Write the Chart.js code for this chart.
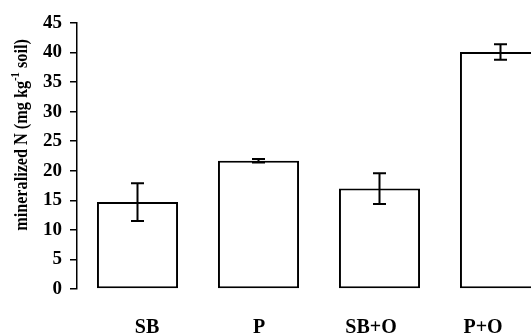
<!DOCTYPE html>
<html>
<head>
<meta charset="utf-8">
<script src="https://cdn.jsdelivr.net/npm/chart.js@4/dist/chart.umd.min.js"></script>
<style>
  html, body { margin: 0; padding: 0; background: #fff; overflow: hidden; }
  body { width: 531px; height: 333px; }
  #wrap { width: 565px; height: 359px; }
</style>
</head>
<body>
<div id="wrap"><canvas id="c" width="565" height="359"></canvas></div>
<script>
// Mineralized N per treatment, mean and standard error
const categories = ['SB', 'P', 'SB+O', 'P+O'];
const mineralN = [14.7, 21.7, 17.0, 40.1];
const mineralNErr = [3.2, 0.3, 2.6, 1.3];
const yTicks = [0, 5, 10, 15, 20, 25, 30, 35, 40, 45];

const SERIF = '"Liberation Serif", "Times New Roman", serif';

// Vertical error bars with flat caps, drawn on top of each bar
const errorBars = {
  id: 'errorBars',
  afterDatasetsDraw(chart) {
    const ctx = chart.ctx;
    const ys = chart.scales.y;
    const meta = chart.getDatasetMeta(0);
    ctx.save();
    ctx.strokeStyle = '#000';
    ctx.lineWidth = 2;
    meta.data.forEach((bar, i) => {
      const v = mineralN[i], e = mineralNErr[i];
      const yt = ys.getPixelForValue(v + e);
      const yb = ys.getPixelForValue(v - e);
      const x = bar.x, hw = 6.5;
      ctx.beginPath();
      ctx.moveTo(x, yt); ctx.lineTo(x, yb);
      ctx.moveTo(x - hw, yt); ctx.lineTo(x + hw, yt);
      ctx.moveTo(x - hw, yb); ctx.lineTo(x + hw, yb);
      ctx.stroke();
    });
    ctx.restore();
  }
};

// Rotated y-axis title with a superscript unit exponent (slightly condensed)
const yTitle = {
  id: 'yTitle',
  afterDraw(chart) {
    const ctx = chart.ctx;
    const parts = [
      { t: 'mineralized N (mg kg', size: 18, dy: 0 },
      { t: '-1', size: 12, dy: -8 },
      { t: ' soil)', size: 18, dy: 0 }
    ];
    ctx.save();
    ctx.fillStyle = '#000';
    ctx.textBaseline = 'alphabetic';
    let w = 0;
    parts.forEach(p => { ctx.font = 'bold ' + p.size + 'px ' + SERIF; p.w = ctx.measureText(p.t).width; w += p.w; });
    ctx.translate(27, chart.chartArea.top + 112);
    ctx.rotate(-Math.PI / 2);
    ctx.scale(0.9, 1);
    let x = -w / 2;
    parts.forEach(p => {
      ctx.font = 'bold ' + p.size + 'px ' + SERIF;
      ctx.fillText(p.t, x, p.dy);
      x += p.w;
    });
    ctx.restore();
  }
};

new Chart(document.getElementById('c'), {
  type: 'bar',
  data: {
    labels: categories,
    datasets: [{
      data: mineralN,
      backgroundColor: '#fff',
      borderColor: '#000',
      borderWidth: 2,
      borderSkipped: false,
      categoryPercentage: 1,
      barPercentage: 0.67
    }]
  },
  options: {
    responsive: false,
    animation: false,
    devicePixelRatio: 1,
    layout: { padding: { left: 35, right: 4, top: 23, bottom: 0 } },
    plugins: { legend: { display: false }, tooltip: { enabled: false } },
    scales: {
      x: { display: false, offset: true },
      xl: {
        type: 'linear',
        position: 'bottom',
        offset: false,
        min: -0.625,
        max: 3.696,
        afterBuildTicks: s => { s.ticks = categories.map((_, i) => ({ value: i })); },
        ticks: {
          callback: (v, i) => categories[i],
          font: { family: SERIF, size: 20, weight: 'bold' },
          color: '#000',
          padding: 19,
          maxRotation: 0,
          autoSkip: false
        },
        grid: { display: false, offset: false },
        border: { display: false }
      },
      y: {
        min: 0,
        max: 45,
        afterBuildTicks: s => { s.ticks = yTicks.map(v => ({ value: v })); },
        ticks: {
          font: { family: SERIF, size: 19, weight: 'bold' },
          color: '#000',
          padding: 8
        },
        grid: { drawOnChartArea: false, tickLength: 7, color: '#000', lineWidth: 1.5 },
        border: { display: true, color: '#000', width: 1.5 }
      }
    }
  },
  plugins: [errorBars, yTitle]
});
</script>
</body>
</html>
